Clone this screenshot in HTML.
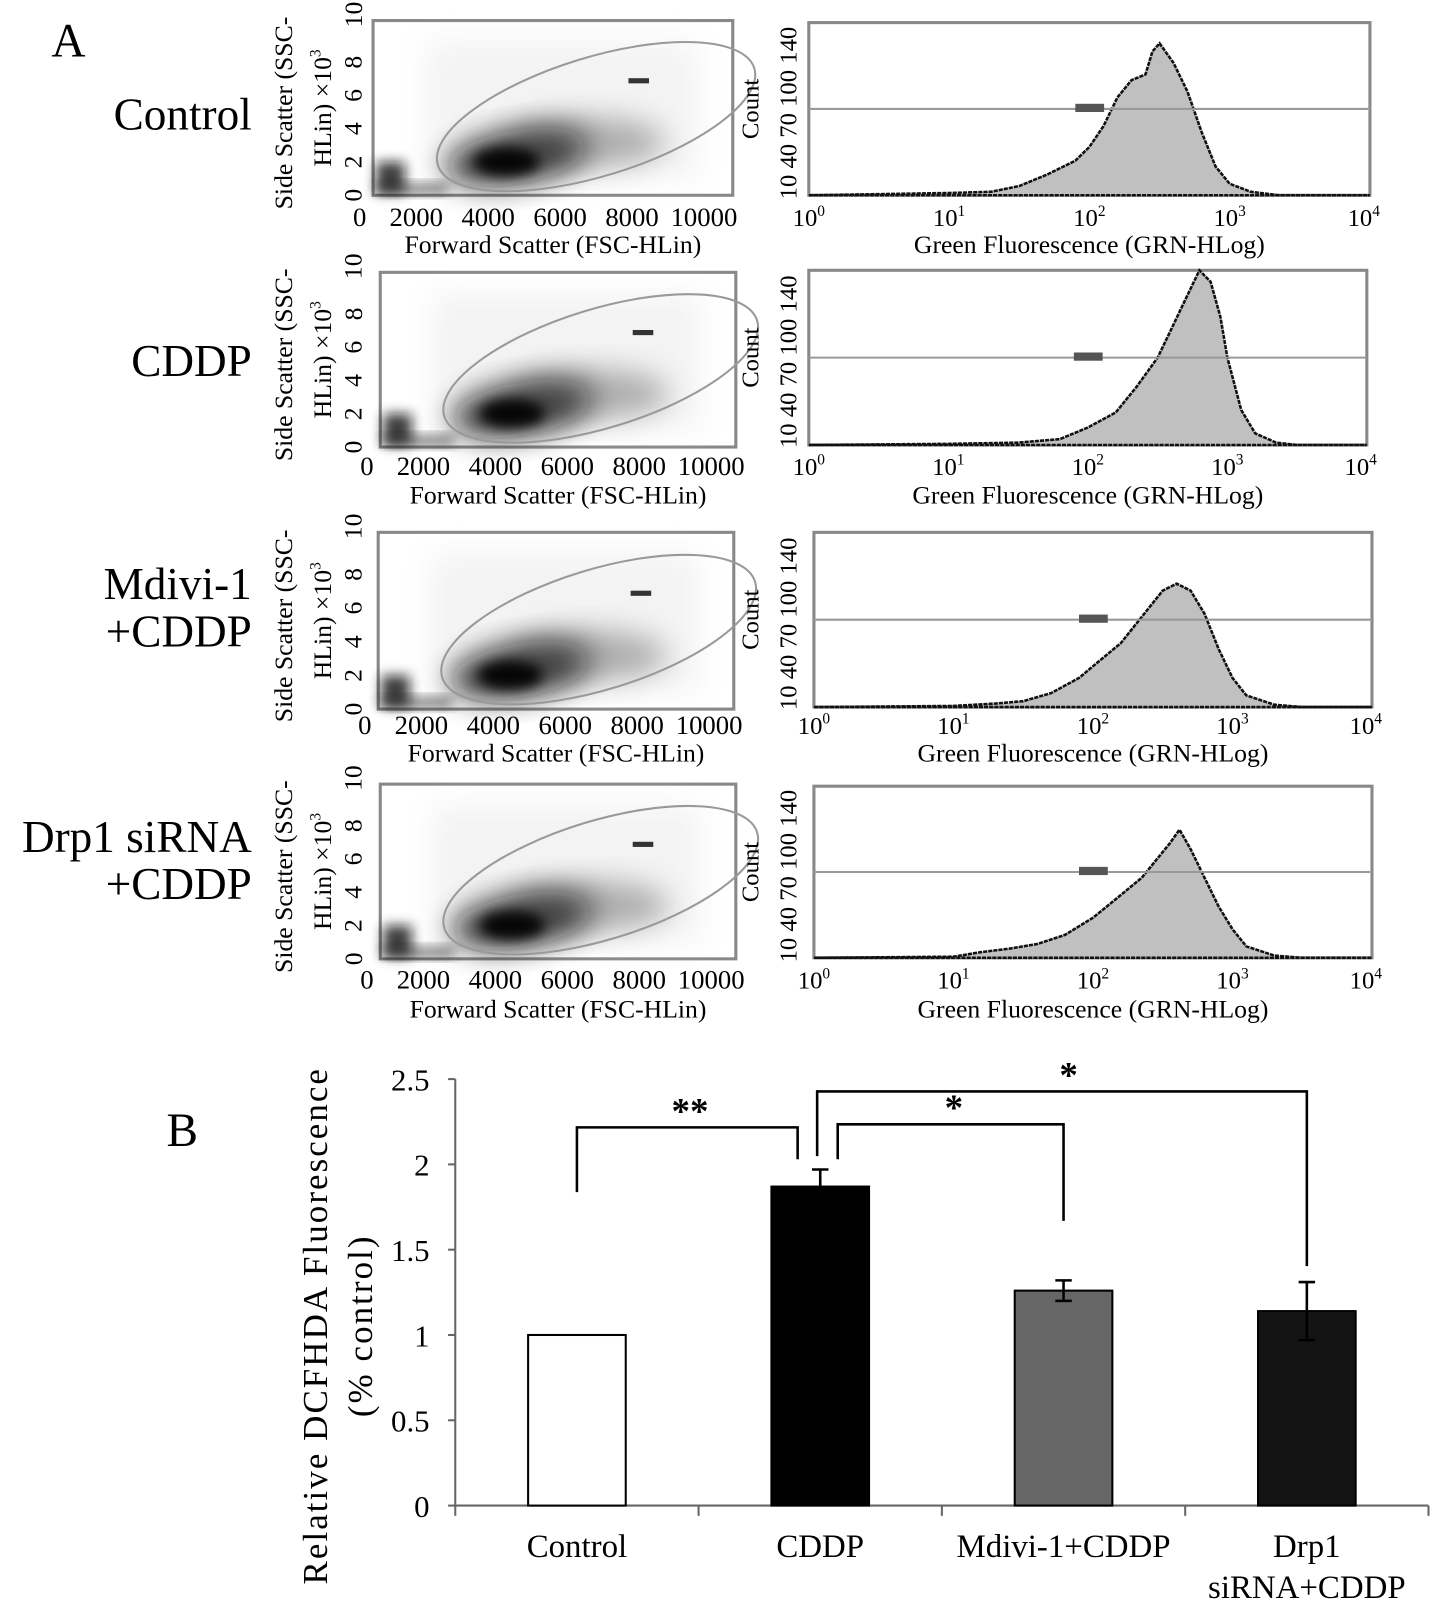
<!DOCTYPE html>
<html><head><meta charset="utf-8"><style>
html,body{margin:0;padding:0;background:#fff;}
svg{display:block;font-family:"Liberation Serif",serif;}
</style></head><body>
<svg id="fig" width="1441" height="1612" viewBox="0 0 1441 1612" xmlns="http://www.w3.org/2000/svg">
<defs>
<filter id="blur" x="-50%" y="-50%" width="200%" height="200%"><feGaussianBlur stdDeviation="14"/></filter>
<filter id="blur2" x="-50%" y="-50%" width="200%" height="200%"><feGaussianBlur stdDeviation="6"/></filter>
</defs>
<g transform="scale(1.0277)">
<text x="50" y="55" font-size="46">A</text>
<text x="162" y="1115" font-size="46">B</text>
<g id="panelA"></g>
<g id="panelB"></g>
</g>
</svg>
<script>
const NS="http://www.w3.org/2000/svg";
function mk(parent,tag,attrs,text){const e=document.createElementNS(NS,tag);for(const k in attrs)e.setAttribute(k,attrs[k]);if(text!==undefined)e.textContent=text;parent.appendChild(e);return e;}

// ---- Panel A data ----
const rowLabels=[["Control"],["CDDP"],["Mdivi-1","+CDDP"],["Drp1 siRNA","+CDDP"]];
const histLogX=[
 [0,0.5,1,1.3,1.5,1.7,1.9,2.0,2.1,2.2,2.3,2.4,2.45,2.5,2.6,2.7,2.8,2.9,3.0,3.15,3.35,4],
 [0,1,1.5,1.8,2.0,2.2,2.35,2.5,2.6,2.7,2.8,2.88,2.95,3.0,3.1,3.2,3.35,3.5,4],
 [0,1,1.3,1.5,1.7,1.9,2.0,2.1,2.2,2.3,2.4,2.5,2.6,2.7,2.8,2.9,3.0,3.1,3.3,3.5,4],
 [0,1,1.2,1.4,1.6,1.8,2.0,2.2,2.35,2.45,2.55,2.62,2.7,2.8,2.9,3.0,3.1,3.3,3.5,4]
];
const histCounts=[
 [0,1,2,3,8,18,30,42,60,85,100,105,125,132,115,90,55,25,10,3,0,0],
 [0,1,2,5,15,28,50,75,100,125,150,140,110,75,30,10,2,0,0],
 [0,1,3,5,12,25,35,45,55,70,85,100,106,100,80,50,25,10,2,0,0],
 [0,1,5,8,12,20,35,55,70,85,100,112,95,70,45,25,10,2,0,0]
];
const scatterTicks=["0","2000","4000","6000","8000","10000"];
const sscTicks=["0","2","4","6","8","10"];
const countTicks=["10","40","70","100","140"];
const logTicks=["0","1","2","3","4"];

const rows=[
 {sx:363,sw:350,sy:20,sh:170,hx:787,hw:546,hy:22,hh:168,lab:220,tit:246,ly:112},
 {sx:370,sw:346,sy:265,sh:170,hx:787,hw:543,hy:263,hh:170,lab:462,tit:490,ly:352},
 {sx:368,sw:346,sy:518,sh:172,hx:792,hw:543,hy:518,hh:170,lab:714,tit:741,ly:592},
 {sx:370,sw:346,sy:763,sh:170,hx:792,hw:543,hy:765,hh:167,lab:962,tit:990,ly:838}
];
const A=document.getElementById('panelA');
rows.forEach((r,i)=>{
 const g=mk(A,'g',{});
 
 
 rowLabels[i].forEach((t,j)=>{
  const n=rowLabels[i].length;
  const tt=mk(g,'text',{x:245,y:r.ly+(j-(n-1)/2)*46+14,'font-size':44,'text-anchor':'end'},t);
  
  
 });
 const sc=mk(g,'g',{});
 
 
 const sxs=v=>r.sx+v/10500*r.sw, sys=v=>r.sy+r.sh-v/10.5*r.sh;
 mk(sc,'rect',{x:r.sx,y:r.sy,width:r.sw,height:r.sh,fill:'#fff',stroke:'#888','stroke-width':3});
 mk(sc,'rect',{x:r.sx+r.sw*0.15,y:r.sy+r.sh*0.12,width:r.sw*0.75,height:r.sh*0.78,fill:'#ddd',opacity:0.35,filter:'url(#blur)'});
 const cloud=mk(sc,'ellipse',{cx:sxs(4200),cy:sys(2.3),rx:r.sw*0.2,ry:r.sh*0.15,fill:'#111',opacity:0.85,filter:'url(#blur)',transform:`rotate(-10 ${sxs(4200)} ${sys(2.3)})`});
 
 
 mk(sc,'ellipse',{cx:sxs(6200),cy:sys(3.2),rx:r.sw*0.22,ry:r.sh*0.14,fill:'#555',opacity:0.45,filter:'url(#blur)'});
 mk(sc,'ellipse',{cx:sxs(3900),cy:sys(2.0),rx:r.sw*0.09,ry:r.sh*0.08,fill:'#000',opacity:0.9,filter:'url(#blur2)'});
 mk(sc,'rect',{x:r.sx+3,y:sys(2),width:r.sw*0.08,height:r.sh*0.18,fill:'#111',opacity:0.8,filter:'url(#blur2)'});
 mk(sc,'rect',{x:r.sx+3,y:sys(0.7),width:r.sw*0.2,height:r.sh*0.06,fill:'#222',opacity:0.6,filter:'url(#blur2)'});
 const gate=mk(sc,'ellipse',{cx:r.sx+r.sw*0.62,cy:r.sy+r.sh*0.55,rx:r.sw*0.46,ry:r.sh*0.34,fill:'none',stroke:'#999','stroke-width':2,transform:`rotate(-17 ${r.sx+r.sw*0.62} ${r.sy+r.sh*0.55})`});
 
 
 mk(sc,'rect',{x:r.sx+r.sw*0.71,y:r.sy+r.sh*0.33,width:20,height:5,fill:'#333'});
 scatterTicks.forEach((t,k)=>{
  const tx=mk(sc,'text',{x:(k===0?r.sx-13:r.sx+42+(k-1)*70),y:r.lab,'font-size':26,'text-anchor':'middle'},t);
  
  
 });
 const xt=mk(sc,'text',{x:r.sx+r.sw*0.5,y:r.tit,'font-size':25,'text-anchor':'middle'},'Forward Scatter (FSC-HLin)');
 
 
 const cy=r.sy+r.sh/2;
 const yt=mk(sc,'text',{x:284,y:cy+5,'font-size':25,'text-anchor':'middle',transform:`rotate(-90 284 ${cy+5})`},'Side Scatter (SSC-');
 
 
 const yt2=mk(sc,'text',{x:322,y:cy,'font-size':25,'text-anchor':'middle',transform:`rotate(-90 322 ${cy})`});
 
 
 yt2.innerHTML='HLin) ×10<tspan font-size="15" dy="-10">3</tspan>';
 sscTicks.forEach((t,k)=>{
  const yy=sys(k*2)-(k===5?14:0);
  const tk=mk(sc,'text',{x:352,y:yy,'font-size':25,'text-anchor':'middle',transform:`rotate(-90 352 ${yy})`},t);
  
  
 });
 const hg=mk(g,'g',{});
 
 
 const hx=v=>r.hx+v/4*r.hw, hy=v=>r.hy+r.hh-v/150*r.hh;
 mk(hg,'rect',{x:r.hx,y:r.hy,width:r.hw,height:r.hh,fill:'#fff',stroke:'#888','stroke-width':3});
 let d=`M${hx(histLogX[i][0])},${hy(0)}`;
 histLogX[i].forEach((lx,k)=>{d+=` L${hx(lx).toFixed(1)},${hy(histCounts[i][k]).toFixed(1)}`;});
 d+=` L${hx(4)},${hy(0)} Z`;
 const area=mk(hg,'path',{d:d,fill:'#c0c0c0',stroke:'#111','stroke-width':2.5,'stroke-dasharray':'4 1'});
 
 
 const gl=mk(hg,'line',{x1:r.hx,x2:r.hx+r.hw,y1:hy(75),y2:hy(75),stroke:'#999','stroke-width':2});
 
 
 mk(hg,'rect',{x:hx(1.9),y:hy(75)-5,width:28,height:8,fill:'#555'});
 logTicks.forEach((t,k)=>{
  const tx=mk(hg,'text',{x:r.hx+k*r.hw/4+(k===4?-6:0),y:r.lab,'font-size':24,'text-anchor':'middle'});
  
  
  tx.innerHTML='10<tspan font-size="15" dy="-10">'+t+'</tspan>';
 });
 const ht=mk(hg,'text',{x:r.hx+r.hw*0.5,y:r.tit,'font-size':25,'text-anchor':'middle'},'Green Fluorescence (GRN-HLog)');
 
 
 const hcy=r.hy+r.hh/2;
 const ct=mk(hg,'text',{x:738,y:hcy,'font-size':24,'text-anchor':'middle',transform:`rotate(-90 738 ${hcy})`},'Count');
 
 
 const tk=mk(hg,'text',{x:775,y:hcy+4,'font-size':24,'text-anchor':'middle',transform:`rotate(-90 775 ${hcy+4})`},countTicks.join(' '));
 
 
});

// ---- Panel B data ----
const categories=["Control","CDDP","Mdivi-1+CDDP","Drp1 siRNA+CDDP"];
const values=[1.0,1.87,1.26,1.14];
const errors=[0,0.1,0.06,0.17];
const barColors=["#fff","#000","#666","#141414"];
const yTicks=[0,0.5,1,1.5,2,2.5];
const B=document.getElementById('panelB');
const X0=443,X1=1390,Y0=1465,Y1=1050;
const ys=v=>Y0-v/2.5*(Y0-Y1);
const band=(X1-X0)/categories.length;
const xc=i=>X0+band*(i+0.5);
const bw=95;
mk(B,'line',{x1:X0,x2:X0,y1:Y1,y2:Y0,stroke:'#666','stroke-width':2});
mk(B,'line',{x1:X0,x2:X1,y1:Y0,y2:Y0,stroke:'#666','stroke-width':2});
for(let k=0;k<=categories.length;k++){mk(B,'line',{x1:X0+band*k,x2:X0+band*k,y1:Y0,y2:Y0+10,stroke:'#666','stroke-width':2});}
yTicks.forEach(v=>{
 mk(B,'line',{x1:X0-7,x2:X0,y1:ys(v),y2:ys(v),stroke:'#666','stroke-width':2});
 const t=mk(B,'text',{x:X0-25,y:ys(v)+11,'font-size':30,'text-anchor':'end'},String(v));
 
 
});
const yt=mk(B,'text',{x:318,y:1290,'font-size':34,'text-anchor':'middle','letter-spacing':'2',transform:'rotate(-90 318 1290)'},'Relative DCFHDA  Fluorescence');


const yt2=mk(B,'text',{x:362,y:1290,'font-size':34,'text-anchor':'middle','letter-spacing':'2',transform:'rotate(-90 362 1290)'},'(% control)');


categories.forEach((c,i)=>{
 const b=mk(B,'rect',{x:xc(i)-bw/2,y:ys(values[i]),width:bw,height:Y0-ys(values[i]),fill:barColors[i],stroke:'#000','stroke-width':2});
 
 
 if(errors[i]>0){
  const e=mk(B,'path',{d:`M${xc(i)},${ys(values[i]+errors[i])} V${ys(values[i]-errors[i])} M${xc(i)-8},${ys(values[i]+errors[i])} H${xc(i)+8} M${xc(i)-8},${ys(values[i]-errors[i])} H${xc(i)+8}`,stroke:'#000','stroke-width':2.5,fill:'none'});
  
  
 }
 const lines=c==="Drp1 siRNA+CDDP"?["Drp1","siRNA+CDDP"]:[c];
 lines.forEach((l,j)=>{
  const t=mk(B,'text',{x:xc(i),y:1515+j*40,'font-size':32,'text-anchor':'middle'},l);
  
  
 });
});
function bracket(xa,ya,xb,yb,top,label,lx){
 const p=mk(B,'path',{d:`M${xa},${ya} V${top} H${xb} V${yb}`,stroke:'#000','stroke-width':2.5,fill:'none'});
 
 
 const t=mk(B,'text',{x:lx,y:top-4,'font-size':36,'font-weight':'bold','text-anchor':'middle'},label);
 
 
}
bracket(xc(0),1160,xc(1)-22,1128,1097,'**',xc(0)+110);
bracket(xc(1)+17,1128,xc(2),1188,1094,'*',xc(1)+130);
bracket(xc(1)-3,1125,xc(3),1232,1062,'*',xc(2)+5);
</script>
</body></html>
